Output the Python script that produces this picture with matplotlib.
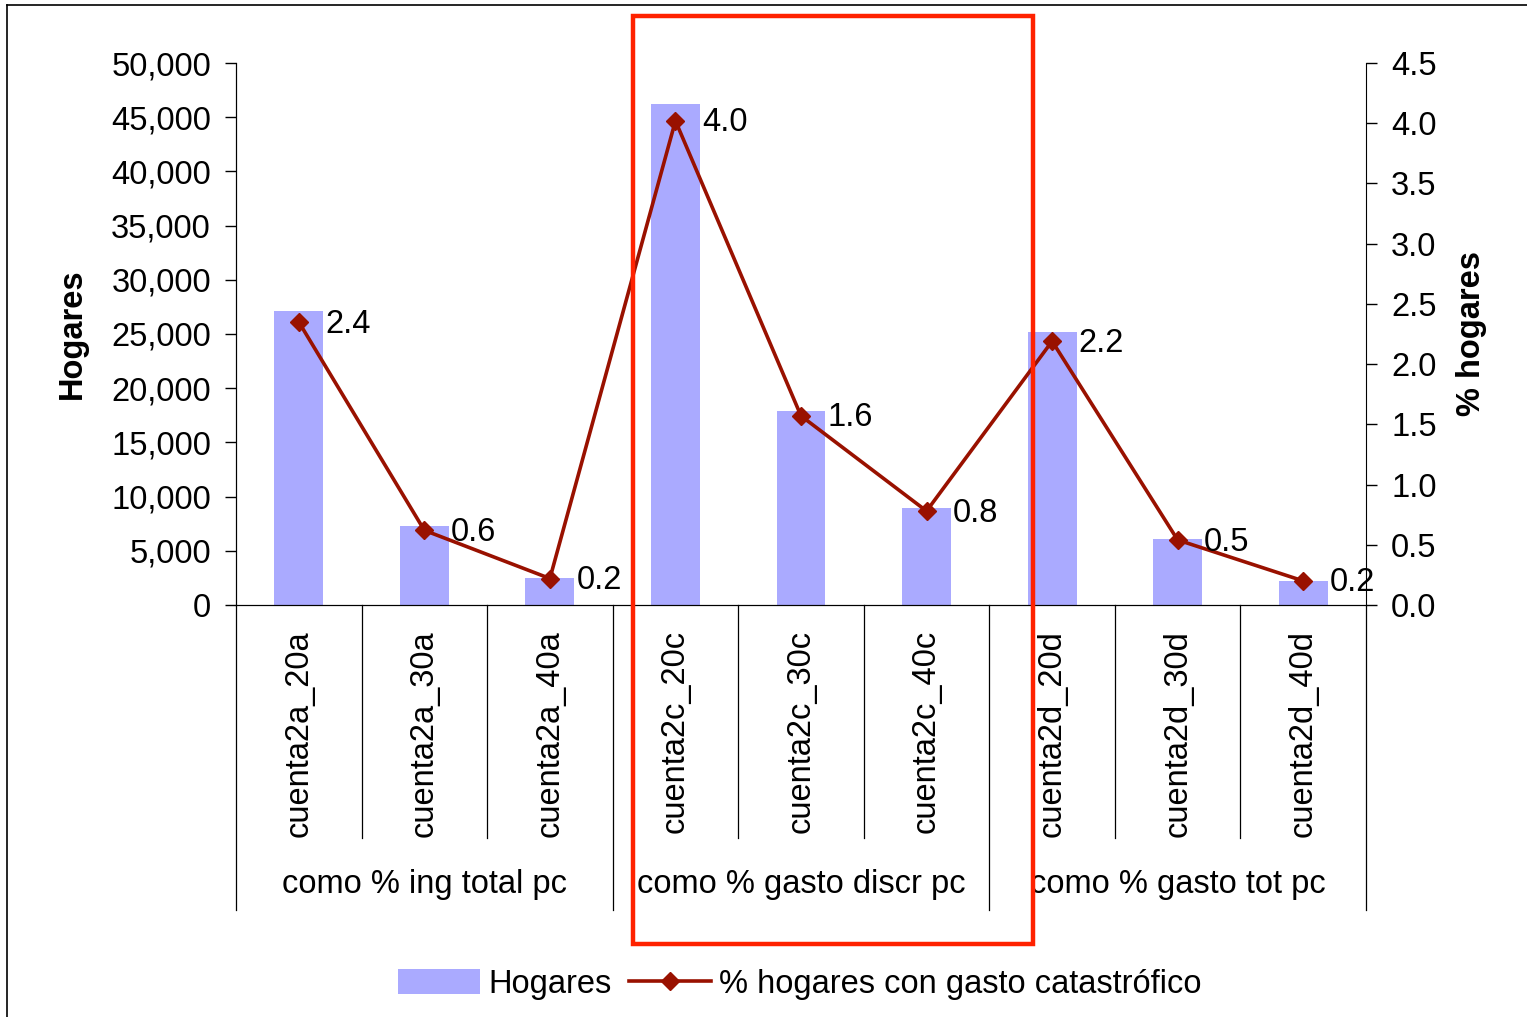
import matplotlib
matplotlib.use("Agg")
import matplotlib.pyplot as plt
from matplotlib.patches import Rectangle
from matplotlib.lines import Line2D
from matplotlib.ticker import FuncFormatter, MultipleLocator
import matplotlib.transforms as mtransforms

plt.rcParams['font.family'] = ['Liberation Sans', 'DejaVu Sans']

# Data
categories = ["cuenta2a_20a", "cuenta2a_30a", "cuenta2a_40a",
              "cuenta2c_20c", "cuenta2c_30c", "cuenta2c_40c",
              "cuenta2d_20d", "cuenta2d_30d", "cuenta2d_40d"]
groups = ["como % ing total pc", "como % gasto discr pc", "como % gasto tot pc"]
hogares = [27150, 7300, 2500, 46250, 17900, 8950, 25200, 6100, 2200]
pct_catastrofico = [2.35, 0.62, 0.22, 4.02, 1.57, 0.78, 2.19, 0.54, 0.20]

W, H = 1527, 1017
fig = plt.figure(figsize=(W / 100, H / 100), dpi=100)

FS = 23.5
bar_color = "#AAAAFF"
line_color = "#991100"

ax = fig.add_axes([236 / W, (H - 605) / H, (1366 - 236) / W, (605 - 63) / H])
x = list(range(len(categories)))
ax.bar(x, hogares, width=0.39, color=bar_color, edgecolor="none", zorder=2,
       label="Hogares")
ax.set_xlim(-0.5, len(categories) - 0.5)
ax.set_ylim(0, 50000)
ax.yaxis.set_major_locator(MultipleLocator(5000))
ax.yaxis.set_major_formatter(FuncFormatter(lambda v, p: f"{int(v):,}"))
ax.tick_params(axis="y", direction="out", length=8, width=1, labelsize=FS, pad=10)
ax.set_xticks(x)
ax.set_xticklabels(categories, rotation=90, fontsize=FS, va="top", ha="center")
ax.tick_params(axis="x", length=0, pad=18)
ax.spines["top"].set_visible(False)
ax.spines["right"].set_visible(False)
ax.set_ylabel("Hogares", fontsize=FS, fontweight="bold", labelpad=17)

ax2 = ax.twinx()
ax2.plot(x, pct_catastrofico, color=line_color, lw=2.6, marker="D",
         markersize=9, markerfacecolor=line_color, markeredgecolor=line_color,
         zorder=3, label="% hogares con gasto catastrófico")
ax2.set_ylim(0, 4.5)
ax2.yaxis.set_major_locator(MultipleLocator(0.5))
ax2.yaxis.set_major_formatter(FuncFormatter(lambda v, p: f"{v:.1f}"))
ax2.tick_params(axis="y", direction="out", length=8, width=1, labelsize=FS, pad=10)
ax2.spines["top"].set_visible(False)
ax2.set_ylabel("% hogares", fontsize=FS, fontweight="bold", labelpad=14)
for xi, v in zip(x, pct_catastrofico):
    ax2.annotate(f"{v:.1f}", (xi, v), xytext=(19, -1.5), textcoords="offset points",
                 fontsize=FS, va="center", ha="left")

# Category separators below the axis
trans = mtransforms.blended_transform_factory(ax.transData, ax.transAxes)
inner_bottom = -(838 - 605) / (605 - 63)
outer_bottom = -(910 - 605) / (605 - 63)
for i in range(len(categories) + 1):
    b = i - 0.5
    y_end = outer_bottom if i % 3 == 0 else inner_bottom
    ax.plot([b, b], [0, y_end], transform=trans, color="black", lw=0.9,
            clip_on=False)
group_y = -(884 - 605) / (605 - 63)
for gi, g in enumerate(groups):
    ax.text(gi * 3 + 1, group_y, g, transform=trans, fontsize=FS,
            ha="center", va="center")

# Legend
h1, l1 = ax.get_legend_handles_labels()
h2, l2 = ax2.get_legend_handles_labels()
fig.legend(h1 + h2, l1 + l2, loc="center", bbox_to_anchor=(800 / W, (H - 984) / H),
           ncol=2, frameon=False, fontsize=FS, handlelength=2.5, handleheight=0.8,
           handletextpad=0.25, columnspacing=0.55, borderpad=0)

# Highlight box around the middle group
fig.add_artist(Rectangle((633 / W, (H - 944) / H), (1033 - 633) / W, (944 - 16) / H,
                         transform=fig.transFigure, fill=False,
                         edgecolor="#FF2200", lw=3.2, zorder=10))

# Chart frame
fig.add_artist(Line2D([7 / W, 7 / W], [0, (H - 5) / H], transform=fig.transFigure,
                      color="black", lw=1.2))
fig.add_artist(Line2D([7 / W, 1], [(H - 5) / H, (H - 5) / H], transform=fig.transFigure,
                      color="black", lw=1.2))

fig.savefig("out.png", dpi=100)
